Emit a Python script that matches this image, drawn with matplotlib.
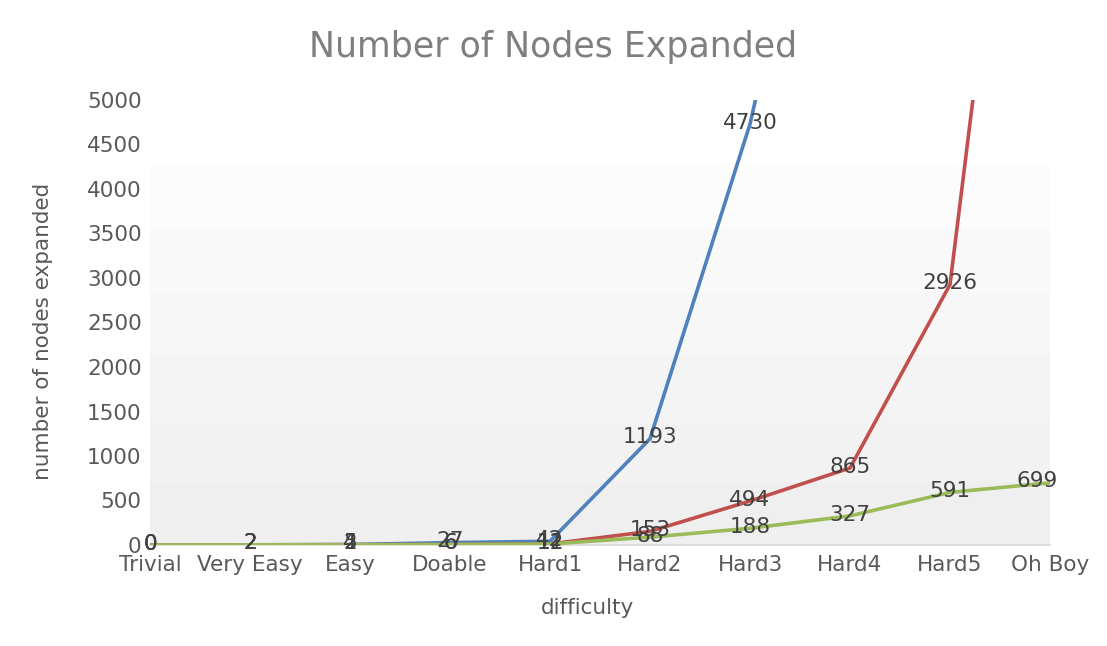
import numpy as np
import matplotlib.pyplot as plt

plt.rcParams['font.family'] = ['DejaVu Sans']

# Chart data
categories = ['Trivial', 'Very Easy', 'Easy', 'Doable', 'Hard1',
              'Hard2', 'Hard3', 'Hard4', 'Hard5', 'Oh Boy']
blue_vals = [0, 2, 5, 27, 42, 1193, 4730, 9700]
red_vals = [0, 2, 4, 6, 12, 153, 494, 865, 2926, 12000]
green_vals = [0, 2, 2, 6, 11, 88, 188, 327, 591, 699]
y_ticks = list(range(0, 5001, 500))

TEXT = '#595959'
LABEL = '#404040'


def main():
    fig = plt.figure(figsize=(11.07, 6.46), dpi=100)
    ax = fig.add_axes([150 / 1107, 101 / 646, 900 / 1107, 445 / 646])

    # banded grey gradient behind the plot area
    bands = np.linspace(0.99, 0.94, 6).reshape(-1, 1)
    ax.imshow(np.dstack([bands, bands, bands]), extent=(0, 1, 0, 380 / 445),
              transform=ax.transAxes, aspect='auto', zorder=0,
              interpolation='nearest')

    series = [(blue_vals, '#4f81bd'), (red_vals, '#c0504d'), (green_vals, '#9bbb59')]
    x = np.arange(len(categories))
    for vals, color in series:
        ax.plot(x[:len(vals)], vals, color=color, lw=2.6, zorder=3,
                solid_joinstyle='miter')

    # data labels sit centred on each point (last one nudged left)
    for vals, color in series:
        for i, v in enumerate(vals):
            if v > 5000:
                continue
            dx = -13 if i == len(categories) - 1 else 0
            ax.annotate(str(v), (i, v), xytext=(dx * 0.72, 1),
                        textcoords='offset points', ha='center', va='center',
                        fontsize=15.5, color=LABEL, zorder=5, annotation_clip=False)

    ax.set_xlim(0, len(categories) - 1)
    ax.set_ylim(0, 5000)
    ax.set_xticks(x)
    ax.set_xticklabels(categories)
    ax.set_yticks(y_ticks)
    ax.tick_params(axis='both', length=0, labelsize=15.5, colors=TEXT)
    ax.tick_params(axis='x', pad=7)
    ax.tick_params(axis='y', pad=6)

    for side in ['top', 'right', 'left']:
        ax.spines[side].set_visible(False)
    ax.spines['bottom'].set_color('#d9d9d9')
    ax.spines['bottom'].set_linewidth(1.2)
    ax.set_facecolor('none')

    fig.text(553 / 1107, 1 - 47 / 646, 'Number of Nodes Expanded', ha='center',
             va='center', fontsize=25, color='#7f7f7f')
    fig.text(588 / 1107, 1 - 608 / 646, 'difficulty', ha='center', va='center',
             fontsize=15.5, color=TEXT)
    fig.text(43 / 1107, 1 - 331 / 646, 'number of nodes expanded', ha='center',
             va='center', rotation=90, fontsize=15.5, color=TEXT)

    fig.savefig('out.png', dpi=100)


if __name__ == "__main__":
    main()
